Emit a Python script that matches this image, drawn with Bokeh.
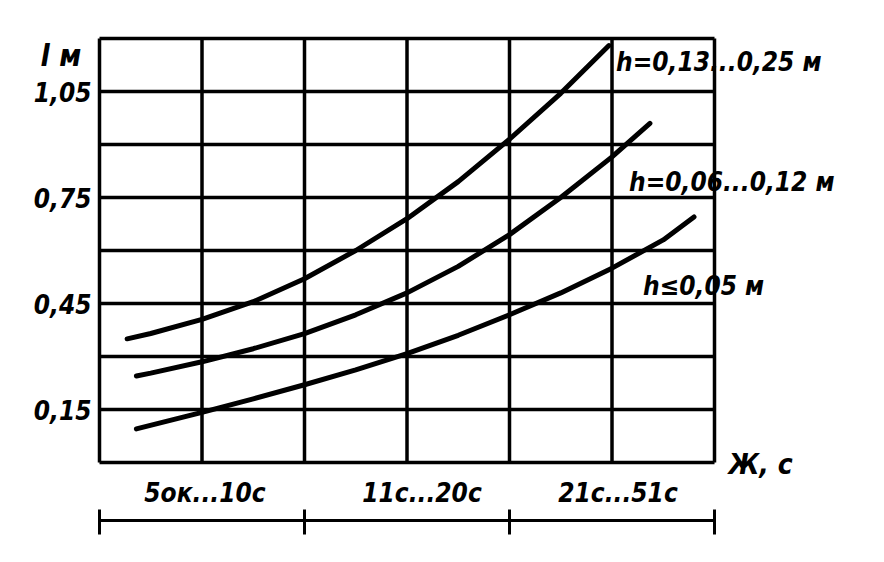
from bokeh.plotting import figure
from bokeh.embed import file_html
from bokeh.resources import INLINE
from bokeh.core.properties import value
from bokeh.models import Range1d

# ---- data ----
x_grid = [0, 1, 2, 3, 4, 5, 6]
y_grid = [0.0, 0.15, 0.30, 0.45, 0.60, 0.75, 0.90, 1.05, 1.20]
y_ticks = [0.15, 0.45, 0.75, 1.05]
y_tick_labels = ["0,15", "0,45", "0,75", "1,05"]
group_centers = [1, 3, 5]
group_labels = ["5ок...10с", "11с...20с", "21с...51с"]
group_edges = [0, 2, 4, 6]

xa = [0.27, 0.5, 1, 1.5, 2, 2.5, 3, 3.5, 4, 4.5, 4.97]
ya = [0.35, 0.365, 0.405, 0.455, 0.52, 0.60, 0.69, 0.795, 0.915, 1.045, 1.18]
xb = [0.36, 0.5, 1, 1.5, 2, 2.5, 3, 3.5, 4, 4.5, 5, 5.37]
yb = [0.245, 0.253, 0.285, 0.322, 0.365, 0.418, 0.48, 0.555, 0.645, 0.75, 0.865, 0.96]
xc = [0.36, 1, 1.5, 2, 2.5, 3, 3.5, 4, 4.5, 5, 5.5, 5.8]
yc = [0.095, 0.142, 0.18, 0.22, 0.262, 0.308, 0.36, 0.418, 0.48, 0.55, 0.63, 0.695]
curve_labels = ["h=0,13...0,25 м", "h=0,06...0,12 м", "h≤0,05 м"]

W, H = 868, 546
# pixel layout of plot box inside canvas
X0, X1 = 99, 714   # canvas px for x=0 and x=6
Y0, Y1 = 462, 38   # canvas px for y=0 and y=1.2
sx = (X1 - X0) / 6.0
sy = (Y0 - Y1) / 1.2

p = figure(width=W, height=H, output_backend="svg", toolbar_location=None,
           x_range=Range1d(-X0 / sx, (W - X0) / sx),
           y_range=Range1d(-(H - Y0) / sy, Y0 / sy),
           min_border=0, outline_line_color=None)
p.axis.visible = False
p.grid.visible = False
p.background_fill_color = "white"
p.border_fill_color = "white"

def dx(px):
    return px / sx

def dy(px):
    return px / sy

# grid
p.segment(x0=[0] * len(y_grid), x1=[6] * len(y_grid), y0=y_grid, y1=y_grid,
          line_color="black", line_width=3.5)
p.segment(x0=x_grid, x1=x_grid, y0=[0] * len(x_grid), y1=[1.2] * len(x_grid),
          line_color="black", line_width=3.5)

# curves
for xs, ys in [(xa, ya), (xb, yb), (xc, yc)]:
    p.line(xs, ys, line_color="black", line_width=5, line_cap="round", line_join="round")

font = value("DejaVu Sans Condensed")

# y tick labels
p.text(x=[-dx(8)] * len(y_ticks), y=y_ticks, text=y_tick_labels,
       text_font=font, text_font_style="bold italic", text_font_size="26px",
       text_align="right", text_baseline="middle", text_color="black")

# y title
p.text(x=[-dx(59)], y=[1.2 + dy(-17)], text=["l м"],
       text_font=font, text_font_style="bold italic", text_font_size="30px",
       text_align="left", text_baseline="alphabetic", text_color="black")

# group labels (small nudges follow the hand-drawn reference)
nudge = [3, 15, 6]
p.text(x=[c + dx(n) for c, n in zip(group_centers, nudge)], y=[-dy(30)] * 3,
       text=group_labels,
       text_font=font, text_font_style="bold italic", text_font_size="26px",
       text_align="center", text_baseline="middle", text_color="black")

# bracket
p.segment(x0=[group_edges[0]], x1=[group_edges[-1]], y0=[-dy(58)], y1=[-dy(58)],
          line_color="black", line_width=3)
p.segment(x0=group_edges, x1=group_edges, y0=[-dy(47)] * 4, y1=[-dy(72)] * 4,
          line_color="black", line_width=3)

# x title
p.text(x=[6 + dx(14)], y=[-dy(2)], text=["Ж, с"],
       text_font=font, text_font_style="bold italic", text_font_size="28px",
       text_align="left", text_baseline="middle", text_color="black")

# curve labels
lab_x = [5 + dx(4), 5 + dx(17), 5 + dx(31)]
lab_y = [1.05 + dy(30), 0.75 + dy(16), 0.45 + dy(18)]
p.text(x=lab_x, y=lab_y, text=curve_labels,
       text_font=font, text_font_style="bold italic", text_font_size="26px",
       text_align="left", text_baseline="middle", text_color="black")

open("out.html", "w").write(file_html(p, INLINE))
